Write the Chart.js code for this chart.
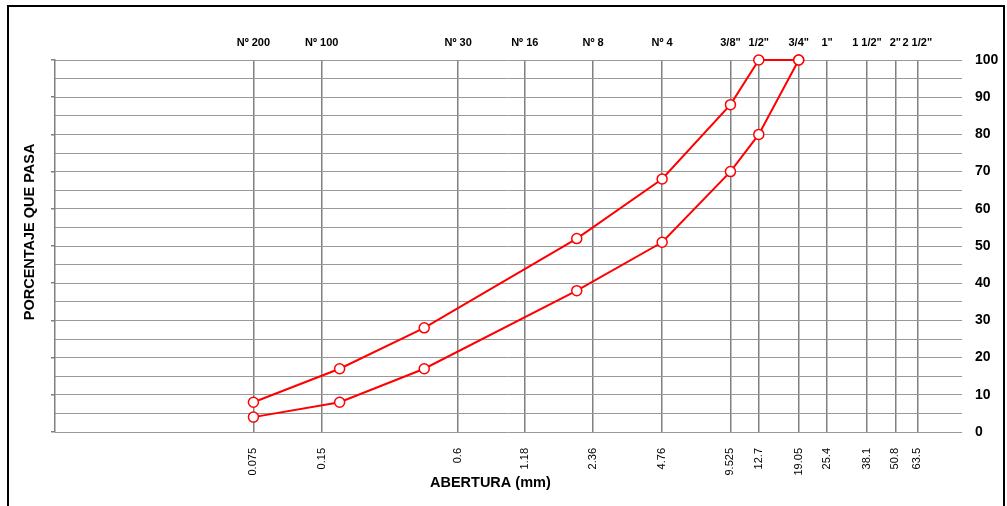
<!DOCTYPE html>
<html lang="es">
  <head>
    <meta charset="UTF-8" />
    <title>Curva granulométrica</title>
    <script src="https://cdn.jsdelivr.net/npm/chart.js"></script>
    <style>
      body { margin: 0; background: #fff; }
      #wrap { width: 1007px; height: 506px; }
    </style>
  </head>
  <body>
    <div id="wrap"><canvas id="chartGranulo" width="1007" height="506"></canvas></div>
    <script>
      // Tamices (abertura en mm) y sus nombres
      var sieveSizes = [0.075, 0.15, 0.6, 1.18, 2.36, 4.76, 9.525, 12.7, 19.05, 25.4, 38.1, 50.8, 63.5];
      var sieveMm = ['0.075', '0.15', '0.6', '1.18', '2.36', '4.76', '9.525', '12.7', '19.05', '25.4', '38.1', '50.8', '63.5'];
      var sieveNames = ['Nº 200', 'Nº 100', 'Nº 30', 'Nº 16', 'Nº 8', 'Nº 4', '3/8"', '1/2"', '3/4"', '1"', '1 1/2"', '2"', '2 1/2"'];

      // Curvas límite
      var limitSizes = [0.075, 0.18, 0.425, 2.0, 4.76, 9.525, 12.7, 19.05];
      var upperPass = [8, 17, 28, 52, 68, 88, 100, 100];
      var lowerPass = [4, 8, 17, 38, 51, 70, 80, 100];

      var FONT = '"Liberation Sans", Arial, sans-serif';

      function toPoints(xs, ys) {
        return xs.map(function (x, i) { return { x: x, y: ys[i] }; });
      }

      function sieveTicks(scale) {
        scale.ticks = sieveSizes.map(function (v) { return { value: v }; });
      }

      var framePlugin = {
        id: 'frame',
        beforeDraw: function (chart) {
          var c = chart.ctx;
          c.save();
          c.fillStyle = '#fff';
          c.fillRect(0, 0, chart.width, chart.height);
          c.restore();
        },
        afterDraw: function (chart) {
          var c = chart.ctx;
          c.save();
          c.strokeStyle = '#000';
          c.lineWidth = 2;
          c.beginPath();
          c.moveTo(8, 506);
          c.lineTo(8, 6);
          c.lineTo(1004, 6);
          c.lineTo(1004, 506);
          c.stroke();
          c.restore();
        }
      };

      var lineStyle = {
        borderColor: '#ff0000',
        borderWidth: 2,
        pointRadius: 5,
        pointHoverRadius: 5,
        pointBackgroundColor: '#ffffff',
        pointBorderColor: '#ff0000',
        pointBorderWidth: 1.5,
        tension: 0,
        fill: false,
        clip: false
      };

      var ctx = document.getElementById('chartGranulo').getContext('2d');
      var chart = new Chart(ctx, {
        type: 'line',
        data: {
          datasets: [
            Object.assign({ label: 'Límite superior', data: toPoints(limitSizes, upperPass) }, lineStyle),
            Object.assign({ label: 'Límite inferior', data: toPoints(limitSizes, lowerPass) }, lineStyle)
          ]
        },
        options: {
          responsive: false,
          animation: false,
          layout: { padding: 0 },
          plugins: { legend: { display: false }, tooltip: { enabled: false } },
          scales: {
            x: {
              type: 'logarithmic',
              position: 'bottom',
              min: 0.01,
              max: 100,
              afterBuildTicks: sieveTicks,
              afterFit: function (s) { s.height = 74; },
              grid: { color: '#808080', lineWidth: 1.5, drawTicks: false },
              border: { display: false },
              ticks: {
                autoSkip: false,
                minRotation: 90,
                maxRotation: 90,
                padding: 16,
                color: '#000',
                font: { family: FONT, size: 11 },
                callback: function (v, i) { return sieveMm[i]; }
              },
              title: {
                display: true,
                text: 'ABERTURA (mm)         ',
                color: '#000',
                padding: { top: 4, bottom: 14 },
                font: { family: FONT, size: 14.5, weight: 'bold' }
              }
            },
            x2: {
              type: 'logarithmic',
              position: 'top',
              min: 0.01,
              max: 100,
              afterBuildTicks: sieveTicks,
              afterFit: function (s) { s.height = 60; },
              grid: { display: false, drawTicks: false },
              border: { display: false },
              ticks: {
                autoSkip: false,
                maxRotation: 0,
                padding: 10,
                color: '#000',
                font: { family: FONT, size: 11, weight: 'bold' },
                callback: function (v, i) { return sieveNames[i]; }
              }
            },
            y: {
              type: 'linear',
              position: 'right',
              min: 0,
              max: 100,
              afterFit: function (s) { s.width = 45; },
              grid: { color: '#999999', lineWidth: 1, drawTicks: false },
              border: { display: false },
              ticks: {
                stepSize: 5,
                autoSkip: false,
                padding: 13,
                color: '#000',
                font: { family: FONT, size: 14, weight: 'bold' },
                callback: function (v) { return v % 10 === 0 ? v : ''; }
              }
            },
            yL: {
              type: 'linear',
              position: 'left',
              min: 0,
              max: 100,
              afterFit: function (s) { s.width = 55; },
              grid: { drawOnChartArea: false, drawTicks: true, tickLength: 4, tickColor: '#808080', lineWidth: 1.5 },
              border: { display: true, color: '#808080', width: 1.5 },
              ticks: { stepSize: 10, display: false },
              title: {
                display: true,
                text: '       PORCENTAJE QUE PASA',
                color: '#000',
                padding: { top: 21, bottom: 0 },
                font: { family: FONT, size: 14.5, weight: 'bold' }
              }
            }
          }
        },
        plugins: [framePlugin]
      });
    </script>
  </body>
</html>
